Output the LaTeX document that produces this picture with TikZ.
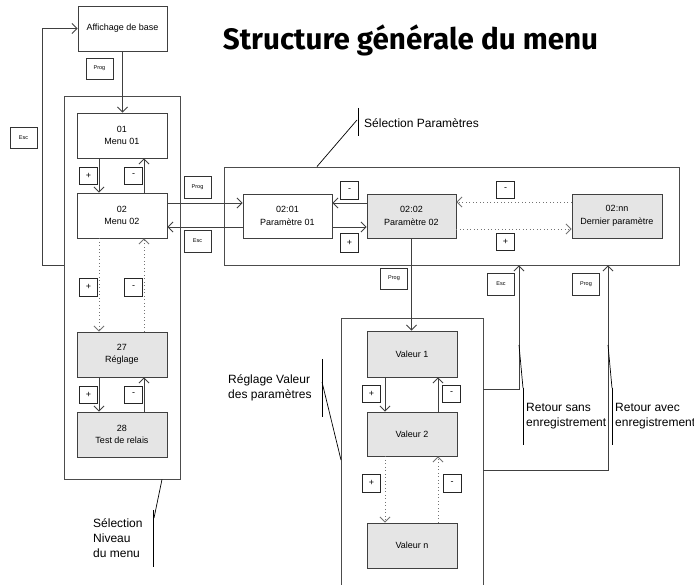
\documentclass[tikz,border=0pt]{standalone}
\usepackage{fontspec}
\setmainfont{Liberation Sans}
\newfontfamily\titlefont{Fira Sans}
\usetikzlibrary{arrows.meta}
\begin{document}
\begin{tikzpicture}[x=1pt,y=-1pt,
  box/.style={draw=black!75, line width=0.9pt, minimum width=90pt, minimum height=45pt, inner sep=0pt, align=center, font=\fontsize{9}{12.5}\selectfont},
  gbox/.style={box, fill=black!10},
  frame/.style={draw=black!70, line width=0.9pt, inner sep=0pt},
  key/.style={draw=black!80, fill=white, line width=0.7pt, minimum width=27pt, minimum height=21pt, inner sep=0pt, font=\fontsize{5.5}{6}\selectfont},
  pm/.style={draw=black!85, fill=white, line width=0.8pt, minimum width=18pt, minimum height=17pt, inner sep=0pt, font=\fontsize{9}{10}\selectfont},
  arr/.style={draw=black!75, line width=0.8pt, -{Straight Barb[length=5pt,width=10pt]}},
  dotarr/.style={arr, draw=black!55, dash pattern=on 0.9pt off 2.6pt},
  call/.style={draw=black, line width=0.7pt},
  lab/.style={font=\fontsize{12}{15}\selectfont, align=left, inner sep=0pt, anchor=west}
]
\useasboundingbox (0,0) rectangle (694,585);

% title
\node[font=\titlefont\bfseries\fontsize{29.6}{32}\selectfont, inner sep=0pt] (title) at (410.5,40) {Structure générale du menu};

% frames
\node[frame, minimum width=116pt, minimum height=383pt] (o1) at (122,287.5) {};
\node[frame, minimum width=455pt, minimum height=98pt] (o2) at (451.5,216) {};
\coordinate (o3bl) at (341,585);
\coordinate (o3tl) at (341,318);
\coordinate (o3tr) at (483,318);
\coordinate (o3br) at (483,585);
\draw[frame] (o3bl) -- (o3tl) -- (o3tr) -- (o3br);

% column / row helpers
\coordinate (xA) at (99,0);
\coordinate (xB) at (144,0);
\coordinate (xC) at (385,0);
\coordinate (xD) at (438,0);
\coordinate (xE) at (519,0);
\coordinate (xF) at (608,0);

% main boxes
\node[box, minimum width=89pt] (aff) at (122.5,28.5) {Affichage de base};
\node[box] (m1) at (122,135.5) {01\\Menu 01};
\node[box] (m2) at (122,215.5) {02\\Menu 02};
\node[gbox] (m27) at (122,354.5) {27\\Réglage};
\node[gbox] (m28) at (122,434.5) {28\\Test de relais};

\node[box, minimum width=89pt, minimum height=44pt] (p1) at (287.5,216) {02:01\\Paramètre 01};
\node[gbox, minimum width=89pt, minimum height=44pt] (p2) at (411.5,216) {02:02\\Paramètre 02};
\node[gbox, minimum height=44pt] (pn) at (617,216) {02:nn\\Dernier paramètre};

\node[gbox, minimum height=46pt] (v1) at (412,354) {Valeur 1};
\node[gbox, minimum height=44pt] (v2) at (412,434) {Valeur 2};
\node[gbox] (vn) at (412,545.5) {Valeur n};

% key labels
\node[key] (kp1) at (99.5,68.5) {Prog};
\node[key] (ke1) at (23.5,137.5) {Esc};
\node[key, minimum height=22pt] (kp2) at (197.5,187) {Prog};
\node[key, minimum height=22pt] (ke2) at (197.5,241) {Esc};
\node[key] (kp3) at (394,278.5) {Prog};
\node[key, minimum height=22pt] (ke3) at (501,284) {Esc};
\node[key, minimum height=22pt] (kp4) at (586,284) {Prog};

\node[pm] (pa1) at (88.5,175.5) {+};
\node[pm] (mi1) at (133.5,175.5) {-};
\node[pm, minimum height=18pt] (pa2) at (88.5,287) {+};
\node[pm, minimum height=18pt] (mi2) at (133.5,287) {-};
\node[pm] (pa3) at (88.5,394.5) {+};
\node[pm] (mi3) at (133.5,394.5) {-};
\node[pm, minimum height=18pt] (mi4) at (349.5,190) {-};
\node[pm, minimum height=19pt] (pa4) at (349.5,242.5) {+};
\node[pm] (mi5) at (505.5,189.5) {-};
\node[pm] (pa5) at (505.5,241.5) {+};
\node[pm] (pa6) at (371.5,394) {+};
\node[pm] (mi6) at (451.5,393.5) {-};
\node[pm, minimum height=18pt] (pa7) at (371.5,483) {+};
\node[pm, minimum height=18pt] (mi7) at (452,483) {-};

% connectors: menu level
\draw[arr] (aff.south) -- (aff.south |- m1.north);
\coordinate (yEsc) at (0,265);
\draw[arr] (o1.west |- yEsc) -| (42,0 |- aff.west) -- (aff.west);
\draw[arr] (m1.south -| xA) -- (m2.north -| xA);
\draw[arr] (m2.north -| xB) -- (m1.south -| xB);
\draw[dotarr] (m2.south -| xA) -- (m27.north -| xA);
\draw[dotarr] (m27.north -| xB) -- (m2.south -| xB);
\draw[arr] (m27.south -| xA) -- (m28.north -| xA);
\draw[arr] (m28.north -| xB) -- (m27.south -| xB);

% menu <-> parameters
\coordinate (y203) at (0,203);
\coordinate (y227) at (0,227);
\coordinate (y202) at (0,202);
\coordinate (y229) at (0,229);
\draw[arr] (m2.east |- y203) -- (p1.west |- y203);
\draw[arr] (p1.west |- y227) -- (m2.east |- y227);
\draw[arr] (p2.west |- y203) -- (p1.east |- y203);
\draw[arr] (p1.east |- y227) -- (p2.west |- y227);
\draw[dotarr] (pn.west |- y202) -- (p2.east |- y202);
\draw[dotarr] (p2.east |- y229) -- (pn.west |- y229);

% parameters -> values
\draw[arr] (p2.south) -- (p2.south |- v1.north);
\draw[arr] (v1.south -| xC) -- (v2.north -| xC);
\draw[arr] (v2.north -| xD) -- (v1.south -| xD);
\draw[dotarr] (v2.south -| xC) -- (vn.north -| xC);
\draw[dotarr] (vn.north -| xD) -- (v2.south -| xD);

% returns
\coordinate (y389) at (0,389);
\coordinate (y470) at (0,470);
\draw[arr] (o3tr |- y389) -| (o2.south -| xE);
\draw[arr] (o3tr |- y470) -| (o2.south -| xF);

% callouts
\draw[call] (o1.south -| 162,0) -- (154,518);
\draw[call] (153,510) -- (153,567);
\node[lab] (lniv) at (93,538) {Sélection\\Niveau\\du menu};

\draw[call] (o2.north -| 317,0) -- (357,120);
\draw[call] (358,108) -- (358,136);
\node[lab] (lpar) at (364,123) {Sélection Paramètres};

\draw[call] (322,382) -- (o3tl |- 0,460);
\draw[call] (322,359) -- (322,417);
\node[lab] (lreg) at (228,387.5) {Réglage Valeur\\des paramètres};

\draw[call] (519,345) -- (523,388);
\draw[call] (523,388) -- (523,445);
\node[lab] (lsans) at (526,416.5) {Retour sans\\enregistrement};

\draw[call] (608,345) -- (612,388);
\draw[call] (612,388) -- (612,445);
\node[lab] (lavec) at (615,416.5) {Retour avec\\enregistrement};
\end{tikzpicture}
\end{document}
